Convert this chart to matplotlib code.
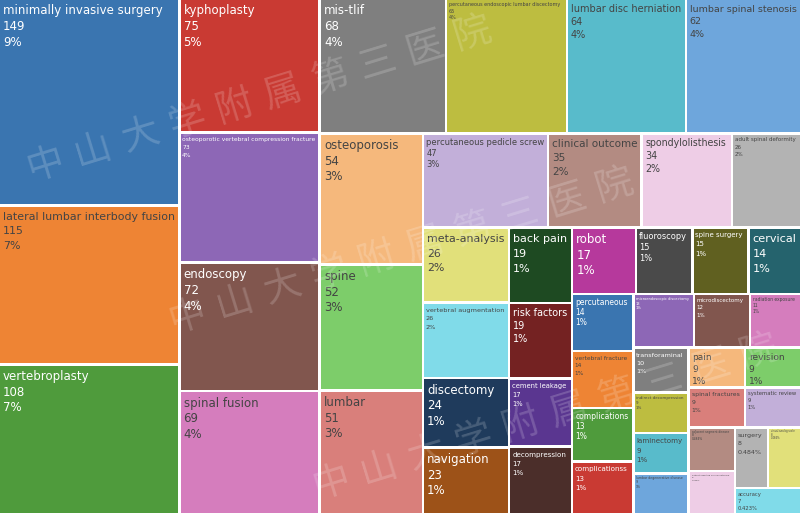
import matplotlib
matplotlib.use('Agg')
import matplotlib.pyplot as plt
from matplotlib.patches import Rectangle
from matplotlib.font_manager import FontProperties

# ---------------- data (value-descending, ties alphabetical) ----------------
labels = [
    "minimally invasive surgery", "lateral lumbar interbody fusion", "vertebroplasty",
    "kyphoplasty", "osteoporotic vertebral compression fracture", "endoscopy",
    "spinal fusion", "mis-tlif", "percutaneous endoscopic lumbar discectomy",
    "lumbar disc herniation", "lumbar spinal stenosis", "osteoporosis", "spine",
    "lumbar", "percutaneous pedicle screw", "clinical outcome", "spondylolisthesis",
    "adult spinal deformity", "meta-analysis", "vertebral augmentation",
    "discectomy", "navigation", "back pain", "risk factors", "cement leakage",
    "decompression", "robot", "fluoroscopy", "spine surgery", "cervical",
    "percutaneous", "vertebral fracture", "complications", "complicationss",
    "microendoscopic discectomy", "microdiscectomy", "radiation exposure",
    "transforaminal", "indirect decompression", "laminectomy",
    "lumbar degenerative disease", "pain", "revision", "spinal fractures",
    "systematic review", "adjacent segment disease",
    "patient reported clinical outcome", "surgery", "visual analog scale", "accuracy",
]
values = [
    149, 115, 108,
    75, 73, 72,
    69, 68, 65,
    64, 62, 54, 52,
    51, 47, 35, 34,
    26, 26, 26,
    24, 23, 19, 19, 17,
    17, 17, 15, 15, 14,
    14, 14, 13, 13,
    13, 12, 11,
    10, 9, 9,
    9, 9, 9, 9,
    9, 8,
    8, 8, 8, 7,
]

watermark = "中山大学附属第三医院"

# ---------------- style ----------------
base = ['#3a75b0', '#ee8434', '#4f9b3c', '#c93a33', '#8d67b6',
        '#81564e', '#d57dbd', '#7f7f7f', '#bdbd40', '#58bbcb']
light = ['#6ea6dc', '#f5b87c', '#7dcd6a', '#d97f7b', '#c2afd9',
         '#b38b82', '#eecde6', '#b3b3b3', '#e1e07a', '#80dbe9']
dark = ['#1f3b5c', '#9d5218', '#1e4a22', '#742222', '#5a3690',
        '#4b2e2a', '#b6399c', '#4a4a4a', '#606020', '#25636d']
palette = base + light + dark

W, H = 800, 513
DPI = 100
GAP = 1.3          # half gap between tiles, px
BASE_PX = 11.8     # max label font size, px
LINE = 1.32        # line spacing factor

fig = plt.figure(figsize=(W / DPI, H / DPI), dpi=DPI)
ax = fig.add_axes([0, 0, 1, 1])
ax.set_xlim(0, W)
ax.set_ylim(H, 0)
ax.axis('off')


def squarify(vals, x0, y0, x1, y1, ratio=1.0):
    rects = [None] * len(vals)
    value = float(sum(vals))
    n = len(vals)
    i0 = 0
    while i0 < n:
        dx, dy = x1 - x0, y1 - y0
        i1 = i0
        sumv = vals[i1]
        i1 += 1
        minv = maxv = sumv
        alpha = max(dy / dx, dx / dy) / (value * ratio)
        beta = sumv * sumv * alpha
        minratio = max(maxv / beta, beta / minv)
        while i1 < n:
            nv = vals[i1]
            s2 = sumv + nv
            mn, mx = min(minv, nv), max(maxv, nv)
            beta = s2 * s2 * alpha
            nr = max(mx / beta, beta / mn)
            if nr > minratio:
                break
            sumv, minv, maxv, minratio = s2, mn, mx, nr
            i1 += 1
        if dx < dy:   # row along the top
            yb = y0 + dy * sumv / value
            xx = x0
            for i in range(i0, i1):
                w = dx * vals[i] / sumv
                rects[i] = (xx, y0, xx + w, yb)
                xx += w
            y0 = yb
        else:         # column at the left
            xb = x0 + dx * sumv / value
            yy = y0
            for i in range(i0, i1):
                h = dy * vals[i] / sumv
                rects[i] = (x0, yy, xb, yy + h)
                yy += h
            x0 = xb
        value -= sumv
        i0 = i1
    return rects


total = sum(values)
rects = squarify(values, -GAP, -GAP, W + GAP, H + GAP)

order = sorted(range(len(values)), key=lambda i: (-values[i], labels[i]))
rank = {idx: r for r, idx in enumerate(order)}


def fmt_pct(v):
    p = 100.0 * v / total
    r = round(p)
    if r >= 1:
        return f"{r}%"
    return f"{p:.3g}%"


def brightness(c):
    c = c.lstrip('#')
    r, g, b = int(c[0:2], 16), int(c[2:4], 16), int(c[4:6], 16)
    return (r * 299 + g * 587 + b * 114) / 1000.0


fig.canvas.draw()
renderer = fig.canvas.get_renderer()
prop = FontProperties(family='DejaVu Sans', size=BASE_PX * 72 / DPI)


def text_w(s):
    w, h, d = renderer.get_text_width_height_descent(s, prop, ismath=False)
    return w

for i, (lab, val) in enumerate(zip(labels, values)):
    x0, y0, x1, y1 = rects[i]
    x0 += GAP; y0 += GAP; x1 -= GAP; y1 -= GAP
    col = palette[rank[i] % len(palette)]
    ax.add_patch(Rectangle((x0, y0), x1 - x0, y1 - y0, facecolor=col,
                           edgecolor='none', zorder=1))
    lines = [lab, str(val), fmt_pct(val)]
    tw = max(text_w(s) for s in lines)
    th = BASE_PX * (1 + 2 * LINE)
    sc = min(1.0, (x1 - x0 - 6) / tw, (y1 - y0 - 4.5) / th)
    fs = BASE_PX * sc
    tcol = '#444444' if brightness(col) >= 128 else '#ffffff'
    for k, s in enumerate(lines):
        by = y0 + 2.6 * max(sc, 0.4) + fs * (1 + LINE * k)
        ax.text(x0 + 3 * max(sc, 0.5), by, s, fontsize=fs * 72 / DPI,
                family='DejaVu Sans', color=tcol, ha='left', va='baseline',
                zorder=3)

# faint diagonal watermark, repeated
for ox, oy in [(0, 0), (142, 152), (286, 318)]:
    for k, ch in enumerate(watermark):
        cx = 45 + ox + 47.5 * k
        cy = 165 + oy - 14.5 * k
        if -30 < cx < W + 30 and -30 < cy < H + 30:
            ax.text(cx, cy, ch, fontsize=27, family=['Noto Sans CJK SC', 'DejaVu Sans'],
                    color='white', alpha=0.18, ha='center', va='center',
                    rotation=17, zorder=4)

fig.savefig('out.png', dpi=DPI)
